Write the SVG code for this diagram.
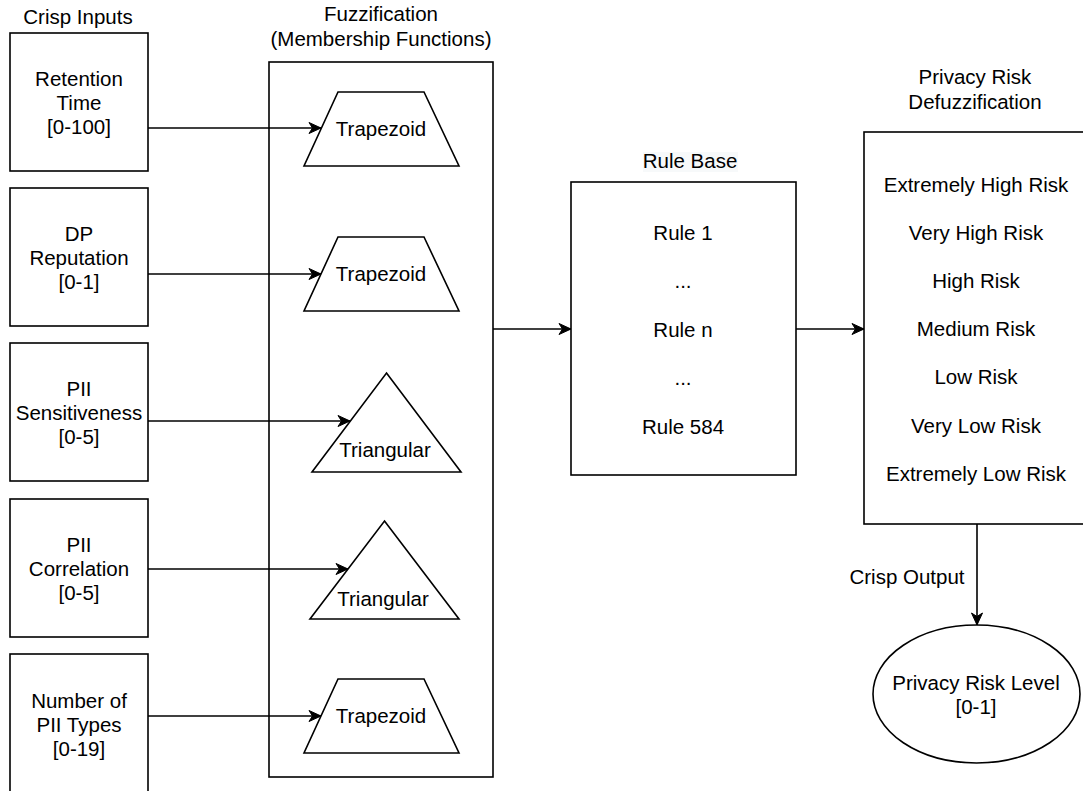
<svg xmlns="http://www.w3.org/2000/svg" width="1083" height="791" viewBox="0 0 1083 791">
<style>
  .box { fill: #ffffff; stroke: #000000; stroke-width: 1.6; }
  .t { font-family: "Liberation Sans", Arial, sans-serif; font-size: 20.5px; fill: #000000; text-anchor: middle; }
  .edge { fill: none; stroke: #000000; stroke-width: 1.6; }
</style>
<defs>
  <marker id="arrow" markerUnits="userSpaceOnUse" markerWidth="16" markerHeight="14" refX="13" refY="7" orient="auto">
    <path d="M1,1.5 L13,7 L1,12.5 L4.5,7 Z" fill="#000000" stroke="#000000" stroke-width="1"/>
  </marker>
</defs>

<rect width="1083" height="791" fill="#ffffff"/>

<g id="titles">
  <text class="t" x="78" y="24">Crisp Inputs</text>
  <text class="t" x="381" y="21">Fuzzification</text>
  <text class="t" x="381" y="46">(Membership Functions)</text>
  <text class="t" x="975" y="84">Privacy Risk</text>
  <text class="t" x="975" y="109">Defuzzification</text>
</g>

<g id="input-retention">
  <rect class="box" x="10" y="33" width="138" height="138"/>
  <text class="t" x="79" y="86">Retention</text>
  <text class="t" x="79" y="110">Time</text>
  <text class="t" x="79" y="134">[0-100]</text>
</g>
<g id="input-dp">
  <rect class="box" x="10" y="188" width="138" height="138"/>
  <text class="t" x="79" y="241">DP</text>
  <text class="t" x="79" y="265">Reputation</text>
  <text class="t" x="79" y="289">[0-1]</text>
</g>
<g id="input-sens">
  <rect class="box" x="10" y="343" width="138" height="138"/>
  <text class="t" x="79" y="396">PII</text>
  <text class="t" x="79" y="420">Sensitiveness</text>
  <text class="t" x="79" y="444">[0-5]</text>
</g>
<g id="input-corr">
  <rect class="box" x="10" y="499" width="138" height="138"/>
  <text class="t" x="79" y="552">PII</text>
  <text class="t" x="79" y="576">Correlation</text>
  <text class="t" x="79" y="600">[0-5]</text>
</g>
<g id="input-types">
  <rect class="box" x="10" y="654" width="138" height="138"/>
  <text class="t" x="79" y="708">Number of</text>
  <text class="t" x="79" y="732">PII Types</text>
  <text class="t" x="79" y="756">[0-19]</text>
</g>

<g id="fuzzification">
  <rect class="box" x="269" y="62" width="224" height="715"/>
</g>
<g id="mf-trap1">
  <polygon class="box" points="338,92 424,92 459,166 304,166"/>
  <text class="t" x="381" y="136">Trapezoid</text>
</g>
<g id="mf-trap2">
  <polygon class="box" points="338,237 424,237 459,311 304,311"/>
  <text class="t" x="381" y="281">Trapezoid</text>
</g>
<g id="mf-tri1">
  <polygon class="box" points="386.5,373 461,472 312,472"/>
  <text class="t" x="385" y="457">Triangular</text>
</g>
<g id="mf-tri2">
  <polygon class="box" points="384.5,521 459,619 310,619"/>
  <text class="t" x="383" y="606">Triangular</text>
</g>
<g id="mf-trap5">
  <polygon class="box" points="338,679 424,679 459,753 304,753"/>
  <text class="t" x="381" y="723">Trapezoid</text>
</g>

<g id="rule-base">
  <rect x="643" y="152" width="95" height="20" fill="#F7F9FA"/>
  <text class="t" x="690" y="168">Rule Base</text>
  <rect class="box" x="571" y="182" width="225" height="293"/>
  <text class="t" x="683" y="240">Rule 1</text>
  <text class="t" x="683" y="288">...</text>
  <text class="t" x="683" y="337">Rule n</text>
  <text class="t" x="683" y="385">...</text>
  <text class="t" x="683" y="434">Rule 584</text>
</g>

<g id="defuzzification">
  <rect class="box" x="864" y="132" width="225" height="392"/>
  <text class="t" x="976" y="192">Extremely High Risk</text>
  <text class="t" x="976" y="240">Very High Risk</text>
  <text class="t" x="976" y="288">High Risk</text>
  <text class="t" x="976" y="336">Medium Risk</text>
  <text class="t" x="976" y="384">Low Risk</text>
  <text class="t" x="976" y="433">Very Low Risk</text>
  <text class="t" x="976" y="481">Extremely Low Risk</text>
</g>

<g id="output">
  <ellipse class="box" cx="976.5" cy="694" rx="103.5" ry="69"/>
  <text class="t" x="976" y="690">Privacy Risk Level</text>
  <text class="t" x="976" y="714">[0-1]</text>
</g>

<g id="connectors">
  <line class="edge" x1="148" y1="128" x2="321" y2="128" marker-end="url(#arrow)"/>
  <line class="edge" x1="148" y1="274" x2="321" y2="274" marker-end="url(#arrow)"/>
  <line class="edge" x1="148" y1="421" x2="350" y2="421" marker-end="url(#arrow)"/>
  <line class="edge" x1="148" y1="569" x2="348" y2="569" marker-end="url(#arrow)"/>
  <line class="edge" x1="148" y1="716" x2="321" y2="716" marker-end="url(#arrow)"/>
  <line class="edge" x1="493" y1="329" x2="571" y2="329" marker-end="url(#arrow)"/>
  <line class="edge" x1="796" y1="329" x2="864" y2="329" marker-end="url(#arrow)"/>
  <line class="edge" x1="977" y1="524" x2="977" y2="625" marker-end="url(#arrow)"/>
  <text class="t" x="907" y="584">Crisp Output</text>
</g>
</svg>
